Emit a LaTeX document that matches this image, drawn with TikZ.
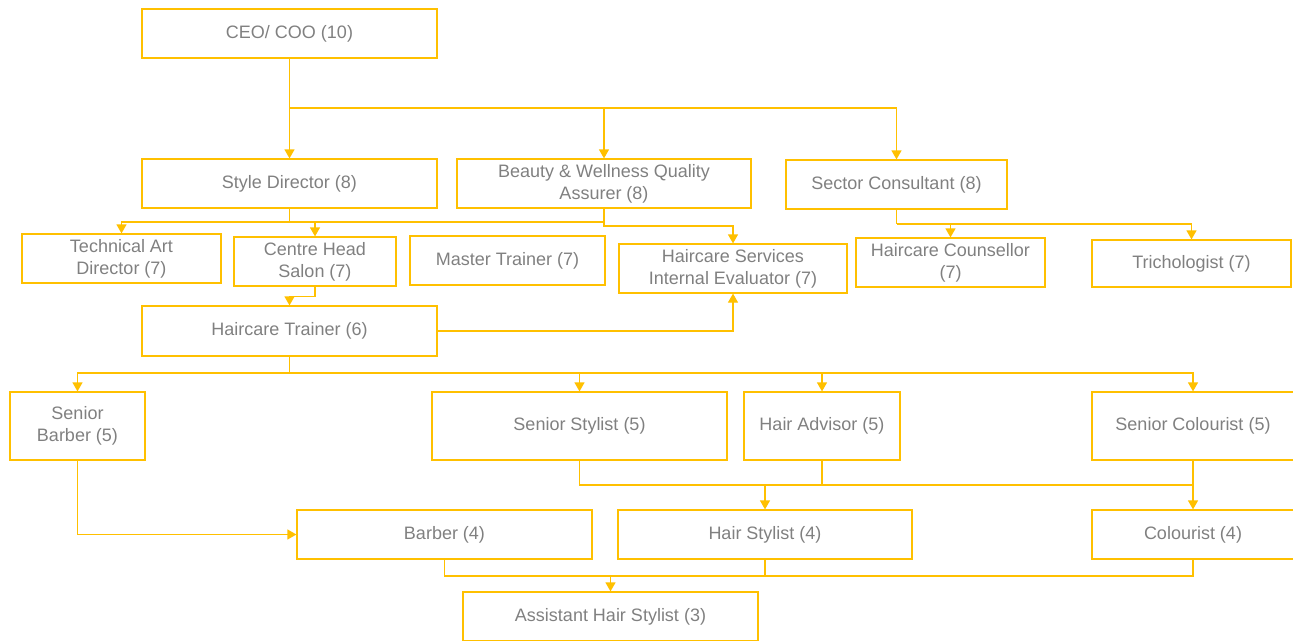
\documentclass[tikz,border=0pt]{standalone}
\usepackage{fontspec}
\setmainfont{Liberation Sans}
\usetikzlibrary{arrows.meta}
\definecolor{amber}{HTML}{FFC000}
\definecolor{txtgrey}{HTML}{808080}
\begin{document}
\begin{tikzpicture}[
    x=1pt, y=-1pt,
    box/.style={draw=amber, line width=1.2pt, rectangle, minimum height=49pt, align=center, text=txtgrey, font=\fontsize{18}{22}\selectfont, inner sep=2pt, yshift=-1.5pt},
    link/.style={draw=amber, line width=1.2pt},
    arrow/.style={link, -{Triangle[width=10pt,length=9pt]}}
]
    \clip (0,0) rectangle (1293,640);

    % Level 10
    \node[box, minimum width=295pt] (ceo) at (289.5,32) {CEO/ COO (10)};

    % Level 8
    \node[box, minimum width=295pt] (sd) at (289.5,182) {Style Director (8)};
    \node[box, minimum width=294pt] (bw) at (604,182) {Beauty \& Wellness Quality\\Assurer (8)};
    \node[box, minimum width=221pt] (sc) at (896.5,183) {Sector Consultant (8)};

    % Level 7
    \node[box, minimum width=199pt] (tad) at (121.5,257) {Technical Art\\Director (7)};
    \node[box, minimum width=162pt] (chs) at (315,260) {Centre Head\\Salon (7)};
    \node[box, minimum width=195pt] (mt) at (507.5,259) {Master Trainer (7)};
    \node[box, minimum width=228pt] (hsie) at (733,267) {Haircare Services\\Internal Evaluator (7)};
    \node[box, minimum width=189pt] (hc) at (950.5,261) {Haircare Counsellor\\(7)};
    \node[box, minimum width=199pt, minimum height=47pt] (tri) at (1191.5,262) {Trichologist (7)};

    % Level 6
    \node[box, minimum width=295pt, minimum height=50pt] (ht) at (289.5,329.5) {Haircare Trainer (6)};

    % Level 5
    \node[box, minimum width=135pt, minimum height=68pt] (sb) at (77.5,424.5) {Senior\\Barber (5)};
    \node[box, minimum width=295pt, minimum height=68pt] (ss) at (579.5,424.5) {Senior Stylist (5)};
    \node[box, minimum width=156pt, minimum height=68pt] (ha) at (822,424.5) {Hair Advisor (5)};
    \node[box, minimum width=202pt, minimum height=68pt] (sco) at (1193,424.5) {Senior Colourist (5)};

    % Level 4
    \node[box, minimum width=295pt] (bar) at (444.5,533) {Barber (4)};
    \node[box, minimum width=294pt] (hs) at (765,533) {Hair Stylist (4)};
    \node[box, minimum width=202pt] (col) at (1193,533) {Colourist (4)};

    % Level 3
    \node[box, minimum width=295pt] (ahs) at (610.5,615) {Assistant Hair Stylist (3)};

    % Junctions
    \coordinate (ceoj) at (289.5,108);
    \coordinate (sdj) at (289.5,222);
    \coordinate (bwj) at (604,226);
    \coordinate (scj) at (896.5,224);
    \coordinate (htj) at (289.5,373);
    \coordinate (ssj) at (765,485);
    \coordinate (barj) at (610.5,576);

    % Arrows
    \draw[link] (ceo.south) -- (ceoj);
    \draw[arrow] (ceoj) -- (sd.north);
    \draw[arrow] (ceoj) -| (bw.north);
    \draw[arrow] (ceoj) -| (sc.north);

    \draw[link] (sd.south) -- (sdj);
    \draw[arrow] (sdj) -| (tad.north);
    \draw[arrow] (sdj) -| (chs.north);
    \draw[link] (sdj) -| (bwj);
    \draw[arrow] (bw.south) -- (bwj) -| (hsie.north);

    \draw[link] (sc.south) -- (scj);
    \draw[arrow] (scj) -| (hc.north);
    \draw[arrow] (scj) -| (tri.north);

    \draw[arrow] (chs.south) -- ++(0,10) -| (ht.north);
    \draw[arrow] (ht.east) -| (hsie.south);

    \draw[link] (ht.south) -- (htj);
    \foreach \n in {sb,ss,ha,sco}
        \draw[arrow] (htj) -| (\n.north);

    \draw[arrow] (sb.south) |- (bar.west);

    \foreach \n in {ss,ha,sco}
        \draw[link] (\n.south) |- (ssj);
    \draw[arrow] (ssj) -- (hs.north);
    \draw[arrow] (sco.south) -- (col.north);

    \foreach \n in {bar,hs,col}
        \draw[link] (\n.south) |- (barj);
    \draw[arrow] (barj) -- (ahs.north);

\end{tikzpicture}
\end{document}
